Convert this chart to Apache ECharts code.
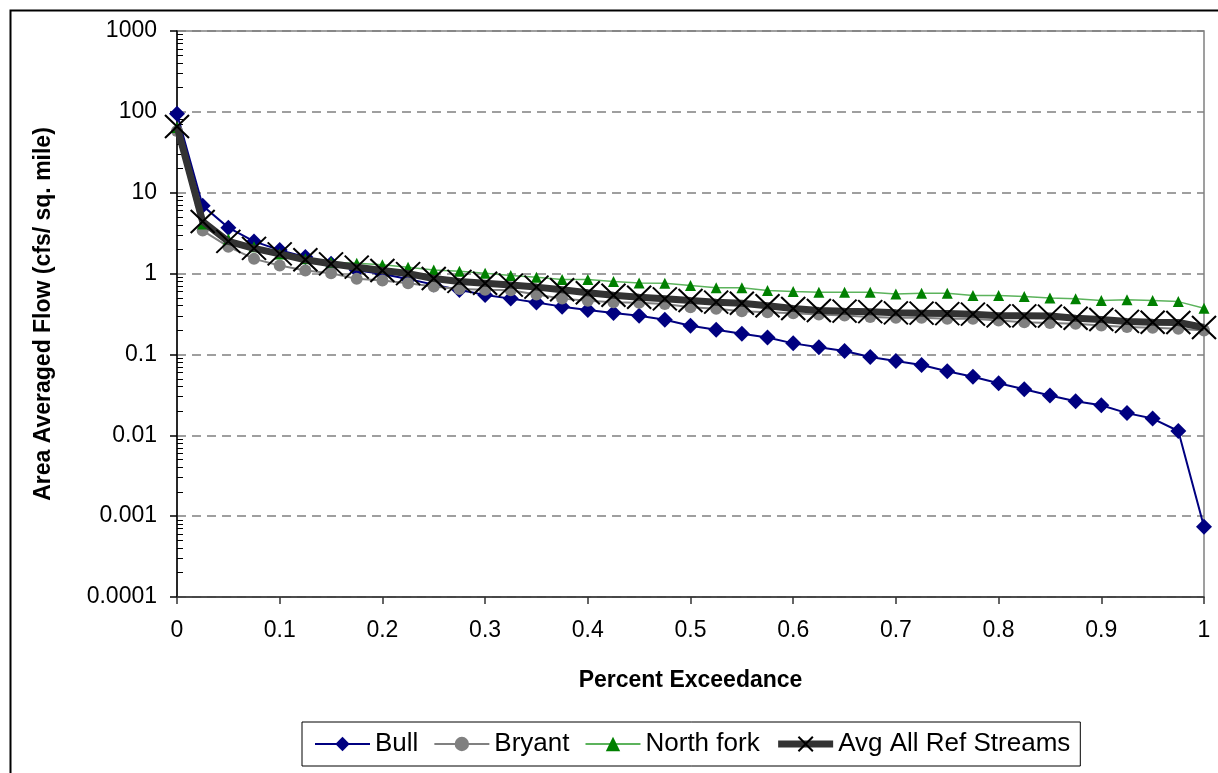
<!DOCTYPE html>
<html>
<head>
<meta charset="utf-8">
<script src="https://cdn.jsdelivr.net/npm/echarts@6/dist/echarts.min.js"></script>
<style>
  html, body { margin: 0; padding: 0; background: #fff; }
  #chart { width: 1218px; height: 773px; }
</style>
</head>
<body>
<div id="chart"></div>
<script>
// ---- Data ----
const xValues = [0, 0.025, 0.05, 0.075, 0.1, 0.125, 0.15, 0.175, 0.2, 0.225, 0.25, 0.275, 0.3, 0.325, 0.35, 0.375, 0.4,
  0.425, 0.45, 0.475, 0.5, 0.525, 0.55, 0.575, 0.6, 0.625, 0.65, 0.675, 0.7, 0.725, 0.75, 0.775, 0.8, 0.825, 0.85,
  0.875, 0.9, 0.925, 0.95, 0.975, 1.0];

const bull = [95, 6.9, 3.7, 2.5, 1.95, 1.6, 1.32, 1.1, 0.99, 0.855, 0.73, 0.625, 0.545, 0.49, 0.44, 0.39, 0.355,
  0.325, 0.3, 0.268, 0.226, 0.202, 0.18, 0.162, 0.137, 0.123, 0.11, 0.093, 0.083, 0.074, 0.062, 0.053, 0.044,
  0.037, 0.031, 0.0263, 0.0235, 0.0188, 0.0161, 0.0113, 0.00074];

const bryant = [58, 3.4, 2.15, 1.52, 1.26, 1.09, 1.01, 0.86, 0.82, 0.76, 0.69, 0.646, 0.63, 0.62, 0.55, 0.49, 0.46,
  0.443, 0.435, 0.42, 0.384, 0.367, 0.343, 0.333, 0.324, 0.312, 0.303, 0.29, 0.284, 0.284, 0.276, 0.276, 0.263,
  0.25, 0.244, 0.24, 0.228, 0.218, 0.214, 0.208, 0.198];

const northFork = [64, 4.1, 2.68, 2.15, 1.75, 1.52, 1.38, 1.34, 1.29, 1.2, 1.11, 1.07, 1.01, 0.945, 0.9, 0.843, 0.843,
  0.8, 0.765, 0.76, 0.711, 0.666, 0.666, 0.617, 0.6, 0.588, 0.588, 0.588, 0.56, 0.571, 0.571, 0.535, 0.535,
  0.52, 0.5, 0.487, 0.464, 0.473, 0.464, 0.45, 0.373];

const avgAll = [66, 4.4, 2.5, 2.05, 1.75, 1.48, 1.32, 1.2, 1.09, 1.0, 0.87, 0.8, 0.76, 0.72, 0.68, 0.63, 0.58,
  0.54, 0.51, 0.487, 0.464, 0.443, 0.43, 0.40, 0.37, 0.35, 0.343, 0.338, 0.327, 0.324, 0.32, 0.315, 0.30,
  0.30, 0.298, 0.28, 0.27, 0.256, 0.25, 0.248, 0.215];

const seriesNames = ['Bull', 'Bryant', 'North fork', 'Avg All Ref Streams'];
const yTickLabels = ['0.0001', '0.001', '0.01', '0.1', '1', '10', '100', '1000'];
const xTickLabels = ['0', '0.1', '0.2', '0.3', '0.4', '0.5', '0.6', '0.7', '0.8', '0.9', '1'];
const xTitle = 'Percent Exceedance';
const yTitle = 'Area Averaged Flow (cfs/ sq. mile)';

function pairs(ys) { return xValues.map((x, i) => [x, ys[i]]); }

const FONT = '"Liberation Sans", Arial, sans-serif';

const chart = echarts.init(document.getElementById('chart'), null, { renderer: 'canvas' });

const yLabelFmt = function (v) {
  const e = Math.round(Math.log10(v));
  return yTickLabels[e + 4] !== undefined ? yTickLabels[e + 4] : '';
};

const X_SYMBOL = 'path://M0,0L10,10M10,0L0,10';

chart.setOption({
  backgroundColor: '#fff',
  animation: false,
  textStyle: { fontFamily: FONT, color: '#000' },
  graphic: [{
    type: 'rect', left: 8, top: 8, silent: true,
    shape: { width: 1240, height: 800 },
    style: { fill: 'none', stroke: '#000', lineWidth: 2 }
  }],
  grid: {
    left: 177, right: 14, top: 31, bottom: 176,
    show: true, borderColor: '#808080', borderWidth: 1.5, backgroundColor: 'transparent'
  },
  legend: {
    left: 302, top: 722,
    data: [
      { name: seriesNames[0] },
      { name: seriesNames[1] },
      { name: seriesNames[2] },
      { name: seriesNames[3], lineStyle: { width: 7, color: '#333333' } }
    ],
    itemWidth: 55, itemHeight: 18, itemGap: 15,
    padding: [9, 10, 9, 12],
    borderColor: '#000', borderWidth: 1,
    textStyle: { fontFamily: FONT, fontSize: 26, color: '#000' }
  },
  xAxis: {
    type: 'value', min: 0, max: 1, interval: 0.1,
    name: xTitle, nameLocation: 'middle', nameGap: 72,
    nameTextStyle: { fontFamily: FONT, fontSize: 23, fontWeight: 'bold', color: '#000' },
    axisLine: { show: true, onZero: false, lineStyle: { color: '#333', width: 1.5 } },
    axisTick: { show: true, inside: false, length: 7, lineStyle: { color: '#333', width: 1.5 } },
    axisLabel: {
      fontFamily: FONT, fontSize: 23, color: '#000', margin: 22,
      formatter: function (v) { return xTickLabels[Math.round(v * 10)]; }
    },
    splitLine: { show: false }
  },
  yAxis: [{
    type: 'log', logBase: 10, min: 0.0001, max: 1000, splitNumber: 7,
    name: yTitle, nameLocation: 'middle', nameGap: 122, nameRotate: 90,
    nameTextStyle: { fontFamily: FONT, fontSize: 23, fontWeight: 'bold', color: '#000' },
    axisLine: { show: true, onZero: false, lineStyle: { color: '#000', width: 1.5 } },
    axisTick: { show: true, inside: false, length: 7, lineStyle: { color: '#000', width: 1.5 } },
    axisLabel: { fontFamily: FONT, fontSize: 23, color: '#000', margin: 20, formatter: yLabelFmt },
    splitLine: { show: true, lineStyle: { color: '#808080', width: 1.5, type: [9, 6] } },
    minorTick: { show: false }
  }, {
    type: 'log', logBase: 10, min: 0.0001, max: 1000, splitNumber: 7,
    position: 'left', offset: 0,
    axisLine: { show: false },
    axisTick: { show: true, inside: true, length: 0, lineStyle: { color: 'rgba(0,0,0,0)' } },
    axisLabel: { show: false },
    splitLine: { show: false },
    minorTick: { show: true, splitNumber: 9, length: 6, lineStyle: { color: '#000', width: 1 } }
  }],
  series: [
    {
      name: seriesNames[0], type: 'line', data: pairs(bull),
      symbol: 'diamond', symbolSize: 16, showAllSymbol: true,
      lineStyle: { color: '#000080', width: 2 },
      itemStyle: { color: '#000080' }, z: 2
    },
    {
      name: seriesNames[1], type: 'line', data: pairs(bryant),
      symbol: 'circle', symbolSize: 12, showAllSymbol: true,
      lineStyle: { color: '#808080', width: 2 },
      itemStyle: { color: '#808080' }, z: 3
    },
    {
      name: seriesNames[2], type: 'line', data: pairs(northFork),
      symbol: 'triangle', symbolSize: 11, showAllSymbol: true,
      lineStyle: { color: '#5cb35c', width: 1.5 },
      itemStyle: { color: '#008000' }, z: 4
    },
    {
      name: seriesNames[3], type: 'line', data: pairs(avgAll),
      symbol: X_SYMBOL, symbolSize: [24, 23], showAllSymbol: true,
      lineStyle: { color: '#333333', width: 7 },
      itemStyle: { color: 'rgba(0,0,0,0)', borderColor: '#000', borderWidth: 2 }, z: 5
    }
  ]
});
</script>
</body>
</html>
